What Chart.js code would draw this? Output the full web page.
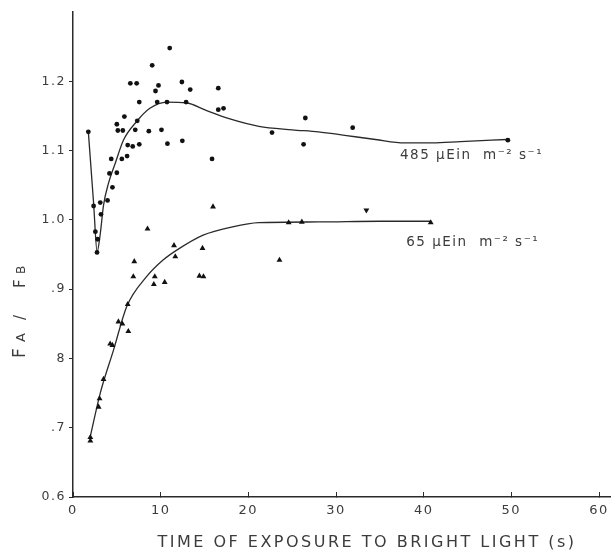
<!DOCTYPE html>
<html>
<head>
<meta charset="utf-8">
<script src="https://cdn.jsdelivr.net/npm/chart.js@4.4.1/dist/chart.umd.min.js"></script>
<style>
	html, body { margin: 0; padding: 0; background: #fff; }
	#wrap { width: 614px; height: 555px; }
</style>
</head>
<body>
<div id="wrap"><canvas id="ratioChart" width="614" height="555"></canvas></div>
<script>
// 485 uEin series (dots)
const highX = [1.75, 2.35, 2.55, 2.81, 2.74, 3.11, 3.19, 3.94, 4.16, 4.36, 4.5, 5.0, 5.0, 5.11, 5.57, 5.68, 5.86,
	6.17, 6.24, 6.54, 6.81, 7.1, 7.26, 7.33, 7.56, 7.56, 8.65, 9.03, 9.41, 9.6, 9.75, 10.09, 10.72, 10.77, 11.03,
	12.42, 12.47, 12.9, 13.37, 15.86, 16.57, 16.57, 17.17, 22.7, 26.3, 26.5, 31.9, 49.6];
const highY = [1.127, 1.02, 0.983, 0.972, 0.953, 1.025, 1.008, 1.028, 1.067, 1.088, 1.047, 1.068, 1.138, 1.129, 1.088, 1.129, 1.149,
	1.092, 1.108, 1.197, 1.106, 1.13, 1.197, 1.143, 1.17, 1.109, 1.128, 1.223, 1.186, 1.17, 1.194, 1.13, 1.17, 1.11, 1.248,
	1.199, 1.114, 1.17, 1.188, 1.088, 1.19, 1.159, 1.161, 1.126, 1.109, 1.147, 1.133, 1.115];

// fitted curve through the 485 series
const highFitX = [1.75, 2.35, 2.75, 3.11, 3.48, 4.05, 4.8, 5.75, 7.26, 8.77, 10.72, 12.9, 15.18, 17.8, 21.2, 25, 28, 31, 34.5, 37.8, 41, 44.2, 49.5];
const highFitY = [1.127, 1.024, 0.954, 0.98, 1.021, 1.053, 1.081, 1.115, 1.142, 1.161, 1.170, 1.169, 1.158, 1.146, 1.135, 1.13, 1.127, 1.122, 1.116, 1.111, 1.111, 1.113, 1.116];

// 65 uEin series (triangles)
const lowX = [1.98, 1.98, 2.92, 3.03, 3.48, 4.24, 4.5, 5.18, 5.63, 6.24, 6.31, 6.88, 6.99, 8.5, 9.22, 9.33, 10.46,
	11.52, 11.67, 14.42, 14.77, 14.88, 15.97, 23.55, 24.6, 26.1, 33.46, 40.8];
const lowY = [0.686, 0.681, 0.73, 0.742, 0.77, 0.821, 0.819, 0.853, 0.85, 0.878, 0.839, 0.918, 0.94, 0.987, 0.907, 0.918, 0.91,
	0.963, 0.947, 0.919, 0.959, 0.918, 1.019, 0.942, 0.996, 0.997, 1.014, 0.996];
const INVERTED_POINT = 26; // the one drawn point-down

// fitted curve through the 65 series
const lowFitX = [1.98, 3.11, 4.62, 6.13, 8.39, 10.27, 11.79, 14.84, 18.2, 21.2, 28, 35, 40.8];
const lowFitY = [0.688, 0.75, 0.812, 0.875, 0.918, 0.942, 0.956, 0.978, 0.99, 0.996, 0.997, 0.998, 0.998];

const yTickValues = [0.6, 0.7, 0.8, 0.9, 1.0, 1.1, 1.2];
const yTickLabels = ['0.6', '.7', '8', '.9', '1.0', '1.1', '1.2'];
const xTickValues = [0, 10, 20, 30, 40, 50, 60];
const xTickLabels = ['0', '10', '20', '30', '40', '50', '60'];

const curveLabels = ['485 \u00b5Ein  m\u207b\u00b2 s\u207b\u00b9', '65 \u00b5Ein  m\u207b\u00b2 s\u207b\u00b9'];
const curveLabelAt = [[37.3, 1.093], [38.0, 0.968]];
const xTitle = 'TIME OF EXPOSURE TO BRIGHT LIGHT (s)';

const INK = '#2a2a2a';
const TEXT = '#3c3c3c';
const FONT = '"DejaVu Sans", sans-serif';

function toPoints(xs, ys) {
	return xs.map((x, i) => ({ x: x, y: ys[i] }));
}

// spaced lettering, like the drawn original
const spacingPlugin = {
	id: 'spacing',
	beforeDraw(chart) {
		chart.ctx.letterSpacing = '1.5px';
	}
};

const textPlugin = {
	id: 'paperText',
	afterDraw(chart) {
		const ctx = chart.ctx;
		const xs = chart.scales.x, ys = chart.scales.y;
		ctx.save();
		ctx.fillStyle = TEXT;

		// curve labels
		ctx.font = '13.5px ' + FONT;
		ctx.letterSpacing = '1.5px';
		ctx.textBaseline = 'middle';
		ctx.textAlign = 'left';
		curveLabels.forEach((t, i) => {
			ctx.fillText(t, xs.getPixelForValue(curveLabelAt[i][0]), ys.getPixelForValue(curveLabelAt[i][1]));
		});

		// x title
		ctx.font = '16px ' + FONT;
		ctx.letterSpacing = '2.5px';
		ctx.textAlign = 'center';
		ctx.fillText(xTitle, 367, 543);

		// y title: FA / FB, rotated
		ctx.translate(25, 358);
		ctx.rotate(-Math.PI / 2);
		ctx.textAlign = 'left';
		ctx.textBaseline = 'alphabetic';
		ctx.letterSpacing = '0px';
		// [text, offset along the axis, font size]
		const parts = [['F', 0, 17], ['A', 16, 13], ['/', 38, 15], ['F', 70, 15], ['B', 84, 12]];
		parts.forEach(p => {
			ctx.font = p[2] + 'px ' + FONT;
			ctx.fillText(p[0], p[1], 0);
		});
		ctx.restore();
	}
};

document.addEventListener("DOMContentLoaded", () => {

	const canvas = document.getElementById("ratioChart");

	window.ratioChart = new Chart(canvas, {
		type: "scatter",
		data: {
			datasets: [
				{
					label: "485 fit",
					data: toPoints(highFitX, highFitY),
					showLine: true,
					borderColor: INK,
					borderWidth: 1.3,
					pointRadius: 0,
					cubicInterpolationMode: "monotone",
					order: 2
				},
				{
					label: "65 fit",
					data: toPoints(lowFitX, lowFitY),
					showLine: true,
					borderColor: INK,
					borderWidth: 1.3,
					pointRadius: 0,
					cubicInterpolationMode: "monotone",
					order: 2
				},
				{
					label: "485",
					data: toPoints(highX, highY),
					pointStyle: "circle",
					pointRadius: 2.4,
					backgroundColor: "#111",
					borderColor: "#111",
					borderWidth: 0,
					order: 1
				},
				{
					label: "65",
					data: toPoints(lowX, lowY),
					pointStyle: "triangle",
					pointRadius: 3.4,
					pointRotation: c => c.dataIndex === INVERTED_POINT ? 180 : 0,
					backgroundColor: "#111",
					borderColor: "#111",
					borderWidth: 0,
					order: 1
				}
			]
		},
		options: {
			responsive: false,
			animation: false,
			layout: { padding: { top: 12, right: 0, left: 0, bottom: 0 } },
			plugins: {
				legend: { display: false },
				title: { display: false },
				tooltip: { enabled: false }
			},
			scales: {
				x: {
					type: "linear",
					min: 0,
					max: 61.25,
					afterBuildTicks: axis => { axis.ticks = xTickValues.map(v => ({ value: v })); },
					afterFit: axis => {
						axis.height = 58;
						axis.paddingRight = 0;
					},
					grid: { drawOnChartArea: false, drawTicks: true, tickLength: -5, color: INK, lineWidth: 1 },
					border: { display: true, color: INK, width: 1.5 },
					ticks: {
						callback: (v, i) => xTickLabels[i],
						color: TEXT,
						font: { family: FONT, size: 13 },
						padding: 11,
						maxRotation: 0
					}
				},
				y: {
					type: "linear",
					min: 0.6,
					max: 1.3,
					afterBuildTicks: axis => { axis.ticks = yTickValues.map(v => ({ value: v })); },
					afterFit: axis => { axis.width = 73; },
					grid: { drawOnChartArea: false, drawTicks: true, tickLength: 4, color: INK, lineWidth: 1 },
					border: { display: true, color: INK, width: 1.5 },
					ticks: {
						callback: (v, i) => yTickLabels[i],
						color: TEXT,
						font: { family: FONT, size: 12.5 },
						padding: 3
					}
				}
			}
		},
		plugins: [spacingPlugin, textPlugin]
	});
});
</script>
</body>
</html>
